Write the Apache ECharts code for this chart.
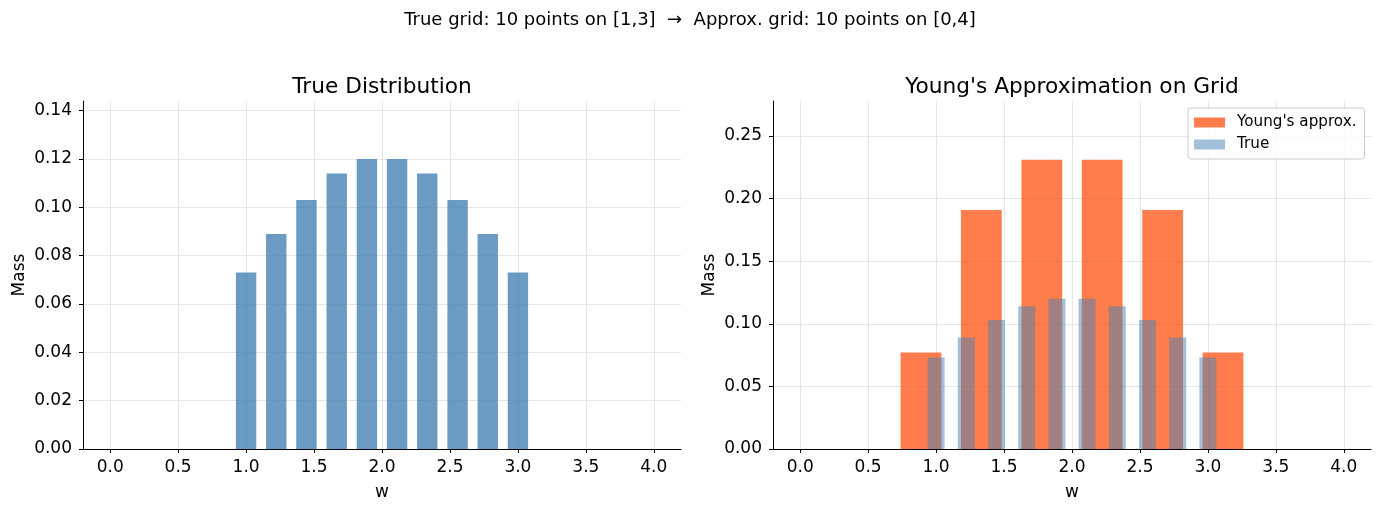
<!DOCTYPE html>
<html>
<head>
<meta charset="utf-8">
<script src="https://cdn.jsdelivr.net/npm/echarts@6/dist/echarts.min.js"></script>
<style>
  html, body { margin: 0; padding: 0; background: #fff; }
  #chart { width: 1381px; height: 510px; }
</style>
</head>
<body>
<div id="chart"></div>
<script>
// true grid: 10 points on [1,3]
const trueX = [1.0, 1.222, 1.444, 1.667, 1.889, 2.111, 2.333, 2.556, 2.778, 3.0];
const trueMass = [0.073, 0.089, 0.103, 0.114, 0.120, 0.120, 0.114, 0.103, 0.089, 0.073];
// approx grid: 10 points on [0,4]
const gridX = [0.0, 0.444, 0.889, 1.333, 1.778, 2.222, 2.667, 3.111, 3.556, 4.0];
const youngMass = [0, 0, 0.077, 0.191, 0.231, 0.231, 0.191, 0.077, 0, 0];

// tick labels
const xTicks = [0.0, 0.5, 1.0, 1.5, 2.0, 2.5, 3.0, 3.5, 4.0];
const leftYTicks = [0.00, 0.02, 0.04, 0.06, 0.08, 0.10, 0.12, 0.14];
const rightYTicks = [0.00, 0.05, 0.10, 0.15, 0.20, 0.25];

const FONT = 'DejaVu Sans';

const chart = echarts.init(document.getElementById('chart'), null, { renderer: 'canvas' });

// bar drawn in data units so width follows the x scale
function barRenderer(width, fill, opacity) {
  return function (params, api) {
    const x = api.value(0);
    const y = api.value(1);
    const p0 = api.coord([x - width / 2, y]);
    const p1 = api.coord([x + width / 2, 0]);
    return {
      type: 'rect',
      shape: { x: p0[0], y: p0[1], width: p1[0] - p0[0], height: p1[1] - p0[1] },
      style: { fill: fill, opacity: opacity }
    };
  };
}

function zip(xs, ys) {
  return xs.map((x, i) => [x, ys[i]]);
}

function makeX(gridIndex) {
  return {
    type: 'value',
    gridIndex: gridIndex,
    min: -0.2,
    max: 4.2,
    name: 'w',
    nameLocation: 'middle',
    nameGap: 35,
    nameTextStyle: { fontFamily: FONT, fontSize: 17, color: '#000' },
    axisLine: { onZero: false, lineStyle: { color: '#000', width: 1 } },
    axisTick: { customValues: xTicks, length: 4, lineStyle: { color: '#000', width: 1 } },
    axisLabel: {
      customValues: xTicks,
      margin: 10,
      fontFamily: FONT,
      fontSize: 17,
      color: '#000',
      formatter: v => v.toFixed(1)
    },
    splitLine: { show: true, lineStyle: { color: '#e6e6e6', width: 1 } }
  };
}

function makeY(gridIndex, max, ticks) {
  return {
    type: 'value',
    gridIndex: gridIndex,
    min: 0,
    max: max,
    name: 'Mass',
    nameLocation: 'middle',
    nameGap: 55,
    nameTextStyle: { fontFamily: FONT, fontSize: 17, color: '#000' },
    axisLine: { show: true, onZero: false, lineStyle: { color: '#000', width: 1 } },
    axisTick: { show: true, customValues: ticks, length: 4, lineStyle: { color: '#000', width: 1 } },
    axisLabel: {
      customValues: ticks,
      margin: 11,
      fontFamily: FONT,
      fontSize: 17,
      color: '#000',
      formatter: v => v.toFixed(2)
    },
    splitLine: { show: true, lineStyle: { color: '#e6e6e6', width: 1 } }
  };
}

const option = {
  backgroundColor: '#fff',
  animation: false,
  title: [
    {
      text: 'True grid: 10 points on [1,3]  \u2192  Approx. grid: 10 points on [0,4]',
      left: 685, top: 6, textAlign: 'center',
      textStyle: { fontFamily: FONT, fontSize: 18, fontWeight: 'normal', color: '#000' }
    },
    {
      text: 'True Distribution',
      left: 377, top: 71, textAlign: 'center',
      textStyle: { fontFamily: FONT, fontSize: 21.7, fontWeight: 'normal', color: '#000' }
    },
    {
      text: "Young's Approximation on Grid",
      left: 1067, top: 71, textAlign: 'center',
      textStyle: { fontFamily: FONT, fontSize: 21.7, fontWeight: 'normal', color: '#000' }
    }
  ],
  legend: {
    data: ["Young's approx.", 'True'],
    orient: 'vertical',
    left: 1188,
    top: 108,
    padding: [7, 8, 7, 6],
    itemGap: 7,
    itemWidth: 31,
    itemHeight: 10,
    icon: 'rect',
    backgroundColor: 'rgba(255,255,255,0.8)',
    borderColor: '#cccccc',
    borderWidth: 1,
    borderRadius: 3,
    textStyle: { fontFamily: FONT, fontSize: 15.2, color: '#000', padding: [0, 0, 0, 7] }
  },
  grid: [
    { left: 83, top: 101, width: 598, height: 348 },
    { left: 773, top: 101, width: 598, height: 348 }
  ],
  xAxis: [makeX(0), makeX(1)],
  yAxis: [makeY(0, 0.144, leftYTicks), makeY(1, 0.278, rightYTicks)],
  series: [
    {
      name: 'True Distribution',
      type: 'custom',
      xAxisIndex: 0,
      yAxisIndex: 0,
      clip: true,
      renderItem: barRenderer(0.15, '#4682b4', 0.8),
      data: zip(trueX, trueMass)
    },
    {
      name: "Young's approx.",
      type: 'custom',
      xAxisIndex: 1,
      yAxisIndex: 1,
      clip: true,
      itemStyle: { color: 'rgba(255,69,0,0.7)' },
      renderItem: barRenderer(0.3, '#ff4500', 0.7),
      data: zip(gridX, youngMass)
    },
    {
      name: 'True',
      type: 'custom',
      xAxisIndex: 1,
      yAxisIndex: 1,
      clip: true,
      itemStyle: { color: 'rgba(70,130,180,0.5)' },
      renderItem: barRenderer(0.125, '#4682b4', 0.5),
      data: zip(trueX, trueMass)
    }
  ]
};

chart.setOption(option);
</script>
</body>
</html>
